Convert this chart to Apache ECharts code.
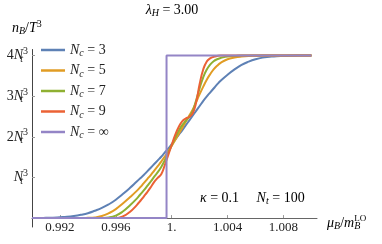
<!DOCTYPE html>
<html><head><meta charset="utf-8">
<script src="https://cdn.jsdelivr.net/npm/echarts@6/dist/echarts.min.js"></script>
<style>html,body{margin:0;padding:0;background:#fff}#c{width:382px;height:244px}</style>
</head><body><div id="c"></div>
<script>
// shared x values (mu_B / m_B^LO)
const xValues = [
  0.9900, 0.9905, 0.9910, 0.9915, 0.9920, 0.9925, 0.9930, 0.9935, 0.9940, 0.9945, 0.9950, 0.9955, 0.9960, 0.9965, 0.9970,
  0.9975, 0.99775, 0.9980, 0.99825, 0.9985, 0.99875, 0.9990, 0.99925, 0.9995, 0.99975, 1.0000, 1.00025, 1.0005, 1.00075, 1.0010,
  1.00125, 1.0015, 1.00175, 1.0020, 1.00225, 1.0025, 1.00275, 1.0030, 1.00325, 1.0035,
  1.0040, 1.0045, 1.0050, 1.0055, 1.0060, 1.0065, 1.0070, 1.0075, 1.0080, 1.0085, 1.0090, 1.0095, 1.0100
];
// n_B / T^3 in units of N_t^3
const nc3 = [
  0, 0, 0.005, 0.01, 0.02, 0.03, 0.05, 0.08, 0.12, 0.18, 0.25, 0.34, 0.45, 0.59, 0.74,
  0.90, 0.98, 1.06, 1.15, 1.24, 1.33, 1.42, 1.51, 1.61, 1.71, 1.82, 1.93, 2.05, 2.16, 2.28,
  2.40, 2.52, 2.64, 2.76, 2.88, 2.99, 3.09, 3.19, 3.29, 3.38,
  3.53, 3.66, 3.77, 3.85, 3.91, 3.95, 3.97, 3.985, 3.99, 3.995, 4.0, 4.0, 4.0
];
const nc5 = [
  0, 0, 0, 0, 0, 0, 0, 0, 0.005, 0.015, 0.05, 0.12, 0.22, 0.36, 0.51,
  0.67, 0.76, 0.86, 0.96, 1.06, 1.17, 1.28, 1.39, 1.51, 1.64, 1.78, 1.92, 2.07, 2.22, 2.37,
  2.52, 2.67, 2.86, 3.05, 3.23, 3.40, 3.54, 3.66, 3.75, 3.82,
  3.91, 3.95, 3.975, 3.99, 3.995, 4, 4, 4, 4, 4, 4, 4, 4
];
const nc7 = [
  0, 0, 0, 0, 0, 0, 0, 0, 0, 0, 0.003, 0.015, 0.06, 0.16, 0.31,
  0.48, 0.58, 0.68, 0.79, 0.90, 1.02, 1.13, 1.26, 1.42, 1.60, 1.79, 1.98, 2.15, 2.29, 2.39,
  2.49, 2.63, 2.90, 3.20, 3.46, 3.65, 3.78, 3.86, 3.91, 3.94,
  3.98, 3.99, 4, 4, 4, 4, 4, 4, 4, 4, 4, 4, 4
];
const nc9 = [
  0, 0, 0, 0, 0, 0, 0, 0, 0, 0, 0, 0, 0, 0.04, 0.15,
  0.32, 0.42, 0.53, 0.64, 0.76, 0.89, 0.99, 1.08, 1.30, 1.55, 1.80, 2.05, 2.24, 2.38, 2.45,
  2.49, 2.58, 2.85, 3.30, 3.65, 3.85, 3.93, 3.97, 3.99, 4.0,
  4, 4, 4, 4, 4, 4, 4, 4, 4, 4, 4, 4, 4
];
// N_c = infinity : step function
const ncInfX = [0.9900, 0.99963, 0.99963, 1.0100];
const ncInfY = [0, 0, 4, 4];

const legendLabels = ['3', '5', '7', '9', '∞'];
const xTickValues = [0.992, 0.996, 1.0, 1.004, 1.008];
const xTickLabels = ['0.992', '0.996', '1.', '1.004', '1.008'];
const yTickValues = [1, 2, 3, 4];
const yTickLabels = ['', '2', '3', '4'];

const colors = ['#5e81b5', '#e19c24', '#8fb032', '#eb6235', '#9485c6'];
const serif = 'Liberation Serif';

function zip(xs, ys) { return xs.map((x, i) => [x, ys[i]]); }

const curveData = [nc3, nc5, nc7, nc9];
const series = curveData.map((ys, k) => ({
  name: 'Nc' + legendLabels[k],
  type: 'line',
  data: zip(xValues, ys),
  showSymbol: false, symbol: 'none',
  smooth: 0.5,
  lineStyle: { width: 2, color: colors[k] },
  itemStyle: { color: colors[k] },
  z: 2 + k
}));
series.push({
  name: 'Nc' + legendLabels[4],
  type: 'line',
  data: zip(ncInfX, ncInfY),
  showSymbol: false, symbol: 'none',
  lineStyle: { width: 2, color: colors[4] },
  itemStyle: { color: colors[4] },
  z: 7
});

const richBase = {
  n: { fontFamily: serif, fontSize: 14, color: '#222' },
  i: { fontFamily: serif, fontSize: 14, fontStyle: 'italic', color: '#222' },
  sub: { fontFamily: serif, fontSize: 10, fontStyle: 'italic', color: '#222', padding: [7, 0, 0, 0] },
  subz: { fontFamily: serif, fontSize: 10, fontStyle: 'italic', color: '#222', padding: [7, 0, 0, 0], width: 0 },
  sup: { fontFamily: serif, fontSize: 10, color: '#222', padding: [0, 0, 8, 0] },
  supr: { fontFamily: serif, fontSize: 9, color: '#222', padding: [0, 0, 9, 0] }
};
const richLegend = {
  n: { fontFamily: serif, fontSize: 14, color: '#222', lineHeight: 18 },
  i: { fontFamily: serif, fontSize: 14, fontStyle: 'italic', color: '#222', lineHeight: 18 },
  sub: { fontFamily: serif, fontSize: 10, fontStyle: 'italic', color: '#222', padding: [7, 0, 0, 0] }
};

const chart = echarts.init(document.getElementById('c'), null, { renderer: 'canvas' });
chart.setOption({
  animation: false,
  backgroundColor: '#fff',
  grid: { left: 32, right: 65, top: 49.5, bottom: 17, containLabel: false, outerBoundsMode: 'none' },
  legend: {
    orient: 'vertical', left: 41, top: 43, padding: 0,
    icon: 'rect', itemWidth: 24, itemHeight: 2.5, itemGap: 5,
    data: series.map(s => s.name),
    formatter: name => {
      const k = series.findIndex(s => s.name === name);
      return '{i|N}{sub|c}{n| = ' + legendLabels[k] + '}';
    },
    textStyle: { rich: richLegend, padding: [0, 0, 0, 0] }
  },
  xAxis: {
    type: 'value', min: 0.990, max: 1.0104,
    axisLine: { show: true, onZero: true, lineStyle: { color: '#666', width: 1 } },
    axisTick: { show: true, inside: true, length: 3, customValues: xTickValues, lineStyle: { color: '#999' } },
    axisLabel: {
      customValues: xTickValues, margin: -6,
      fontFamily: serif, fontSize: 13, color: '#222',
      formatter: v => {
        const k = xTickValues.findIndex(t => Math.abs(t - v) < 1e-6);
        return k >= 0 ? xTickLabels[k] : '';
      }
    },
    splitLine: { show: false }
  },
  yAxis: {
    type: 'value', min: -0.22, max: 4.15,
    axisLine: { show: true, onZero: false, lineStyle: { color: '#444', width: 1 } },
    axisTick: { show: true, inside: true, length: 3, customValues: [0].concat(yTickValues), lineStyle: { color: '#999' } },
    axisLabel: {
      customValues: yTickValues, margin: 4,
      formatter: v => {
        const k = yTickValues.findIndex(t => Math.abs(t - v) < 1e-6);
        if (k < 0) return '';
        return (yTickLabels[k] ? '{n|' + yTickLabels[k] + '}' : '') + '{i|N}{subz|t}{sup|3}';
      },
      rich: richBase
    },
    splitLine: { show: false }
  },
  graphic: [
    { type: 'text', x: 172, y: 10, style: { text: '{i|λ}{sub|H}{n| = 3.00}', rich: richBase, align: 'center', verticalAlign: 'middle' } },
    { type: 'text', x: 12, y: 28, style: { text: '{i|n}{sub|B}{n|/}{i|T}{sup|3}', rich: richBase, align: 'left', verticalAlign: 'middle' } },
    { type: 'text', x: 327, y: 223, style: { text: '{i|μ}{sub|B}{n|/}{i|m}{subz|B}{supr|LO}', rich: richBase, align: 'left', verticalAlign: 'middle' } },
    { type: 'text', x: 200, y: 198, style: { text: '{i|κ}{n| = 0.1     }{i|N}{sub|t}{n| = 100}', rich: richBase, align: 'left', verticalAlign: 'middle' } }
  ],
  series: series
});
</script>
</body></html>
